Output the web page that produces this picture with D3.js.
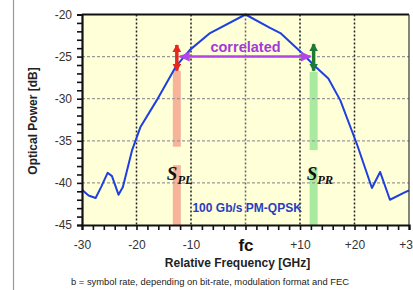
<!DOCTYPE html>
<html>
<head>
<meta charset="utf-8">
<script src="https://cdn.jsdelivr.net/npm/d3@7"></script>
<style>
  body { margin: 0; background: #fff; font-family: "Liberation Sans", Arial, sans-serif; }
</style>
</head>
<body>
<script>
// spectrum
var freq  = [-30, -28.8, -27.5, -26.5, -25.3, -24.5, -23.3, -22.5, -20.8, -19.3, -16.3, -12.8, -10.2, -6.5, 0, 4.5, 6.4, 10.4, 12.5, 15.2, 17.4, 20.5, 23.2, 24.7, 26.5, 29.3, 30];
var power = [-40.8, -41.5, -41.8, -40.5, -38.8, -39.2, -41.4, -40.5, -36.1, -33.4, -30.2, -26.2, -24.2, -22.2, -20, -21.6, -22.2, -24.6, -26, -27.6, -30.2, -35.5, -40.6, -38.7, -42, -41.1, -40.9];

var xTicks = [-30, -20, -10, 0, 10, 20, 30];
var xTickLabels = ["-30", "-20", "-10", "fc", "+10", "+20", "+30"];
var yTicks = [-20, -25, -30, -35, -40, -45];
var hGrid = [-25, -30, -35, -40];
var vGrid = [-20, -10, 0, 10, 20];

// side markers: freq, bar top, gap start, gap end, arrow top, arrow bottom
var sideNames = ["PL", "PR"];
var sideFreq = [-12.6, 12.5];
var sideBarTop = [-26.7, -26.8];
var sideGap = [[-35.7, -37.9], [-36.1, -38.2]];
var sideArrow = [[-23.5, -26.8], [-23.4, -26.8]];

var margin = {top: 14.5, right: 4, bottom: 65, left: 82},
    width = 413 - margin.left - margin.right,
    height = 290 - margin.top - margin.bottom;

var root = d3.select("body").append("svg")
    .attr("width", 413)
    .attr("height", 290);

// thin gray line at the left of the slide
root.append("line")
    .attr("x1", 13.5).attr("x2", 13.5)
    .attr("y1", 0).attr("y2", 290)
    .attr("stroke", "#999").attr("stroke-width", 1.2);

var defs = root.append("defs");
function head(id, color, w, h) {
    defs.append("marker")
        .attr("id", id)
        .attr("viewBox", "0 0 10 10")
        .attr("refX", 9).attr("refY", 5)
        .attr("markerWidth", w).attr("markerHeight", h)
        .attr("markerUnits", "userSpaceOnUse")
        .attr("orient", "auto-start-reverse")
        .attr("preserveAspectRatio", "none")
        .append("path")
        .attr("d", "M0,0 L10,5 L0,10 Z")
        .attr("fill", color);
}
head("hPurple", "#b444e8", 11, 10);
head("hRed", "#e8261c", 8, 9);
head("hGreen", "#1d7a35", 8, 9);

var svg = root.append("g")
    .attr("transform", "translate(" + margin.left + "," + margin.top + ")");

var x = d3.scaleLinear().domain([-30, 30]).range([0, width]);
var y = d3.scaleLinear().domain([-45, -20]).range([height, 0]);

svg.append("rect")
    .attr("width", width).attr("height", height)
    .attr("fill", "#ffffd8");

// shaded bars
sideFreq.forEach(function(f, i) {
    var col = i == 0 ? "#f7b49a" : "#a8eaa0";
    svg.append("rect")
        .attr("x", x(f) - 4).attr("width", 8)
        .attr("y", y(sideBarTop[i]))
        .attr("height", y(sideGap[i][0]) - y(sideBarTop[i]))
        .attr("fill", col);
    svg.append("rect")
        .attr("x", x(f) - 4).attr("width", 8)
        .attr("y", y(sideGap[i][1]))
        .attr("height", y(-45) - y(sideGap[i][1]))
        .attr("fill", col);
});

// grid
svg.selectAll(".hg").data(hGrid).enter().append("line")
    .attr("x1", 0).attr("x2", width)
    .attr("y1", function(d) { return y(d); })
    .attr("y2", function(d) { return y(d); })
    .attr("stroke", "#999").attr("stroke-width", 1.2)
    .attr("stroke-dasharray", "3,2");

svg.selectAll(".vg").data(vGrid).enter().append("line")
    .attr("x1", function(d) { return x(d); })
    .attr("x2", function(d) { return x(d); })
    .attr("y1", 0).attr("y2", height)
    .attr("stroke", function(d) { return d == 0 ? "#666" : "#222"; })
    .attr("stroke-width", 1.5)
    .attr("stroke-dasharray", "2,2");

// spectrum
var pts = freq.map(function(f, i) { return [f, power[i]]; });
svg.append("path")
    .datum(pts)
    .attr("fill", "none")
    .attr("stroke", "#1f3fe0")
    .attr("stroke-width", 2)
    .attr("stroke-linejoin", "round")
    .attr("d", d3.line()
        .x(function(d) { return x(d[0]); })
        .y(function(d) { return y(d[1]); }));

// vertical double arrows
sideFreq.forEach(function(f, i) {
    svg.append("line")
        .attr("x1", x(f)).attr("x2", x(f))
        .attr("y1", y(sideArrow[i][0]) + 1).attr("y2", y(sideArrow[i][1]) - 1)
        .attr("stroke", i == 0 ? "#e8261c" : "#1d7a35")
        .attr("stroke-width", 3.5)
        .attr("marker-start", "url(#" + (i == 0 ? "hRed" : "hGreen") + ")")
        .attr("marker-end", "url(#" + (i == 0 ? "hRed" : "hGreen") + ")");
});

// correlated arrow
svg.append("line")
    .attr("x1", x(sideFreq[0]) + 3).attr("x2", x(sideFreq[1]) - 3)
    .attr("y1", y(-25)).attr("y2", y(-25))
    .attr("stroke", "#b444e8").attr("stroke-width", 2.5)
    .attr("marker-start", "url(#hPurple)")
    .attr("marker-end", "url(#hPurple)");

svg.append("text")
    .attr("x", x(0)).attr("y", y(-25) - 5)
    .attr("text-anchor", "middle")
    .attr("font-size", 14.5).attr("font-weight", "bold")
    .attr("fill", "#a33ad6")
    .text("correlated");

// S labels
sideFreq.forEach(function(f, i) {
    var t = svg.append("text")
        .attr("x", x(f) + (i == 0 ? -10 : -7))
        .attr("y", y(-39.7))
        .attr("font-family", "'Liberation Serif', 'Times New Roman', serif")
        .attr("font-style", "italic")
        .attr("font-weight", "bold")
        .attr("font-size", 19)
        .attr("fill", "#111");
    t.append("tspan").text("S");
    t.append("tspan").attr("font-size", 12.5).attr("dy", 4).text(sideNames[i]);
});

svg.append("text")
    .attr("x", x(0.3)).attr("y", y(-43.4))
    .attr("text-anchor", "middle")
    .attr("font-size", 12).attr("font-weight", "bold")
    .attr("fill", "#2a3cc0")
    .text("100 Gb/s PM-QPSK");

// frame on top and right
svg.append("line").attr("x1", 0).attr("x2", width).attr("y1", 0).attr("y2", 0)
    .attr("stroke", "#111").attr("stroke-width", 1.8);
svg.append("line").attr("x1", width).attr("x2", width).attr("y1", 0).attr("y2", height)
    .attr("stroke", "#333").attr("stroke-width", 1.2);

// axes
var yAxis = svg.append("g")
    .call(d3.axisLeft(y).tickValues(d3.range(-45, -19, 1)).tickSize(5).tickFormat(""));
var yLab = svg.append("g")
    .call(d3.axisLeft(y).tickValues(yTicks).tickSize(0).tickPadding(10)
        .tickFormat(function(d) { return d; }));
yLab.select(".domain").remove();
yLab.selectAll("text").attr("font-size", 12).attr("fill", "#333")
    .attr("font-family", "'Liberation Sans', Arial, sans-serif");

var xAxis = svg.append("g")
    .attr("transform", "translate(0," + height + ")")
    .call(d3.axisBottom(x).tickValues(d3.range(-30, 31, 2)).tickSize(5).tickFormat(""));
[yAxis, xAxis].forEach(function(a) {
    a.select(".domain").attr("stroke", "#111").attr("stroke-width", 2.2);
    a.selectAll(".tick line").attr("stroke", "#111").attr("stroke-width", 1.6);
});

var xLab = svg.append("g")
    .attr("transform", "translate(0," + height + ")")
    .call(d3.axisBottom(x).tickValues(xTicks).tickSize(0).tickPadding(15)
        .tickFormat(function(d, i) { return xTickLabels[i]; }));
xLab.select(".domain").remove();
xLab.selectAll("text")
    .attr("font-family", "'Liberation Sans', Arial, sans-serif")
    .attr("font-size", function(d) { return d == 0 ? 17 : 12; })
    .attr("font-weight", function(d) { return d == 0 ? "bold" : "normal"; })
    .attr("fill", function(d) { return d == 0 ? "#111" : "#333"; })
    .attr("dy", function(d) { return d == 0 ? "0.62em" : "0.71em"; });

svg.append("text")
    .attr("transform", "translate(" + (37 - margin.left) + "," + (121 - margin.top) + ") rotate(-90)")
    .attr("text-anchor", "middle")
    .attr("font-size", 12).attr("font-weight", "bold").attr("fill", "#222")
    .text("Optical Power  [dB]");

svg.append("text")
    .attr("x", 237.5 - margin.left).attr("y", height + 42)
    .attr("text-anchor", "middle")
    .attr("font-size", 12).attr("font-weight", "bold").attr("fill", "#222")
    .text("Relative Frequency  [GHz]");

svg.append("text")
    .attr("x", 210 - margin.left).attr("y", height + 59.5)
    .attr("text-anchor", "middle")
    .attr("font-size", 9.4).attr("fill", "#222")
    .text("b = symbol rate, depending on bit-rate, modulation format and FEC");
</script>
</body>
</html>
